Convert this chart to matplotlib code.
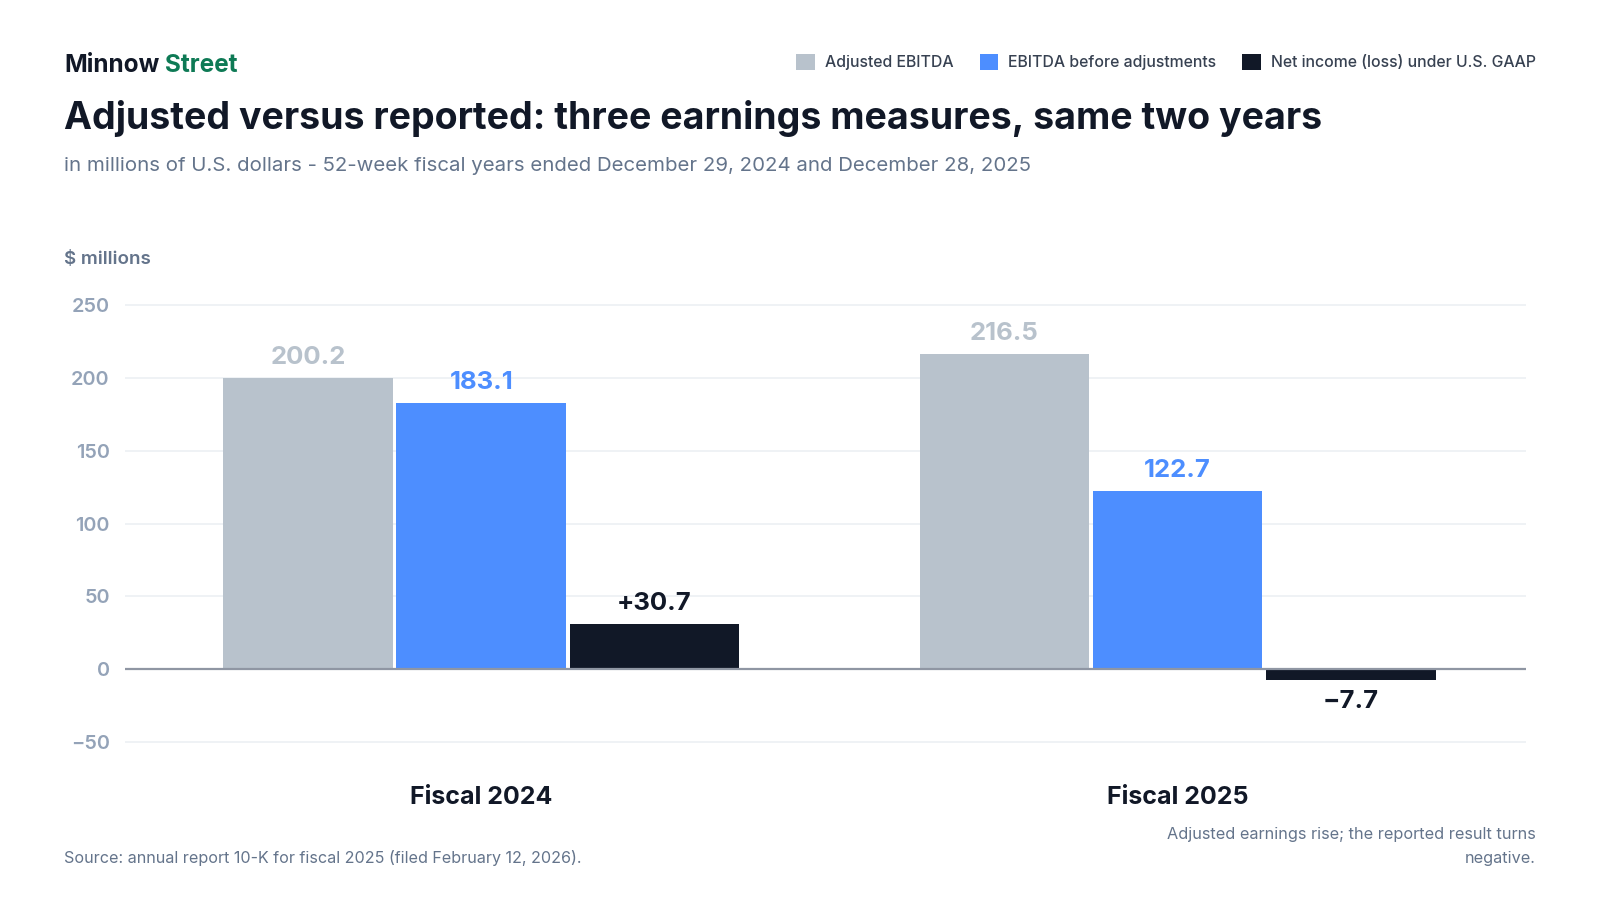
import matplotlib
matplotlib.use("Agg")
import matplotlib.pyplot as plt
from matplotlib.patches import Patch
import numpy as np

plt.rcParams['font.family'] = ['Inter', 'DejaVu Sans']

categories = ["Fiscal 2024", "Fiscal 2025"]
series_names = ["Adjusted EBITDA", "EBITDA before adjustments", "Net income (loss) under U.S. GAAP"]
adj_ebitda = [200.2, 216.5]
ebitda_before = [183.1, 122.7]
net_income = [30.7, -7.7]
label_texts = [["200.2", "216.5"], ["183.1", "122.7"], ["+30.7", "\u22127.7"]]
yticks = [-50, 0, 50, 100, 150, 200, 250]
ytick_labels = ["\u221250", "0", "50", "100", "150", "200", "250"]

colors = ["#B8C2CC", "#4D8EFF", "#111827"]
label_colors = ["#B8C2CC", "#4D8EFF", "#111827"]
DARK = "#111827"
SUB = "#64748B"

fig = plt.figure(figsize=(16, 9), dpi=100)
W, H = 1600, 900

def fx(px):
    return px / W

def fy(py):
    return 1 - py / H

ax = fig.add_axes([fx(125), fy(756.3), fx(1526 - 125), (756.3 - 290.8) / H])
ax.set_ylim(-60, 260)
ax.set_xlim(-0.512, 1.5006)

x = np.arange(len(categories))
bw = 0.244
step = 0.2486
all_series = [adj_ebitda, ebitda_before, net_income]
for s, vals in enumerate(all_series):
    xs = x + (s - 1) * step
    ax.bar(xs, vals, width=bw, color=colors[s], zorder=3, linewidth=0)
    for xi, v, t in zip(xs, vals, label_texts[s]):
        if v >= 0:
            ax.annotate(t, (xi, v), xytext=(0, 6.5), textcoords="offset points",
                        ha="center", va="bottom", fontsize=18.5, fontweight="bold",
                        color=label_colors[s])
        else:
            ax.annotate(t, (xi, v), xytext=(0, -7), textcoords="offset points",
                        ha="center", va="top", fontsize=18.5, fontweight="bold",
                        color=label_colors[s])

ax.set_yticks(yticks)
ax.set_yticklabels(ytick_labels)
ax.tick_params(axis="y", length=0, pad=11, labelsize=14.3, labelcolor="#94A3B8")
for lab in ax.get_yticklabels():
    lab.set_fontweight("semibold")
ax.set_xticks([])
ax.grid(axis="y", color="#EEF1F5", linewidth=1.3, zorder=0)
ax.axhline(0, color="#8F96A3", linewidth=1.6, zorder=4)
for sp in ax.spines.values():
    sp.set_visible(False)

# category labels
for xi, c in zip(x, categories):
    ax.annotate(c, (xi, -60), xytext=(0, -29.5), textcoords="offset points",
                ha="center", va="center", fontsize=18, fontweight="bold", color=DARK,
                annotation_clip=False)

# header
t1 = fig.text(fx(64), fy(65), "Minnow", fontsize=17.5, fontweight="bold", color=DARK,
              va="center", ha="left")
fig.canvas.draw()
bb = t1.get_window_extent()
fig.text((bb.x1 + 6) / W, fy(65), "Street", fontsize=17.5, fontweight="bold",
         color="#0E7A55", va="center", ha="left")

fig.text(fx(64), fy(118), "Adjusted versus reported: three earnings measures, same two years",
         fontsize=27, fontweight="bold", color=DARK, va="center", ha="left")
fig.text(fx(64), fy(166),
         "in millions of U.S. dollars - 52-week fiscal years ended December 29, 2024 and December 28, 2025",
         fontsize=14.7, color=SUB, va="center", ha="left")
fig.text(fx(64), fy(259), "$ millions", fontsize=13.5, fontweight="semibold", color=SUB,
         va="center", ha="left")

# legend
handles = [Patch(facecolor=c, edgecolor="none") for c in colors]
leg = fig.legend(handles, series_names, loc="center right",
                 bbox_to_anchor=(fx(1542), fy(62)), ncol=3, frameon=False,
                 fontsize=11.4, handlelength=1.15, handleheight=1.15,
                 handletextpad=0.64, columnspacing=1.66, borderaxespad=0)
for t in leg.get_texts():
    t.set_color("#374151")
    t.set_fontweight("medium")

# footer
fig.text(fx(64), fy(858), "Source: annual report 10-K for fiscal 2025 (filed February 12, 2026).",
         fontsize=11.6, color=SUB, va="center", ha="left")
fig.text(fx(1536), fy(834), "Adjusted earnings rise; the reported result turns",
         fontsize=11.7, color=SUB, va="center", ha="right")
fig.text(fx(1536), fy(858), "negative.", fontsize=11.7, color=SUB, va="center", ha="right")

fig.savefig("out.png", dpi=100, facecolor="white")
